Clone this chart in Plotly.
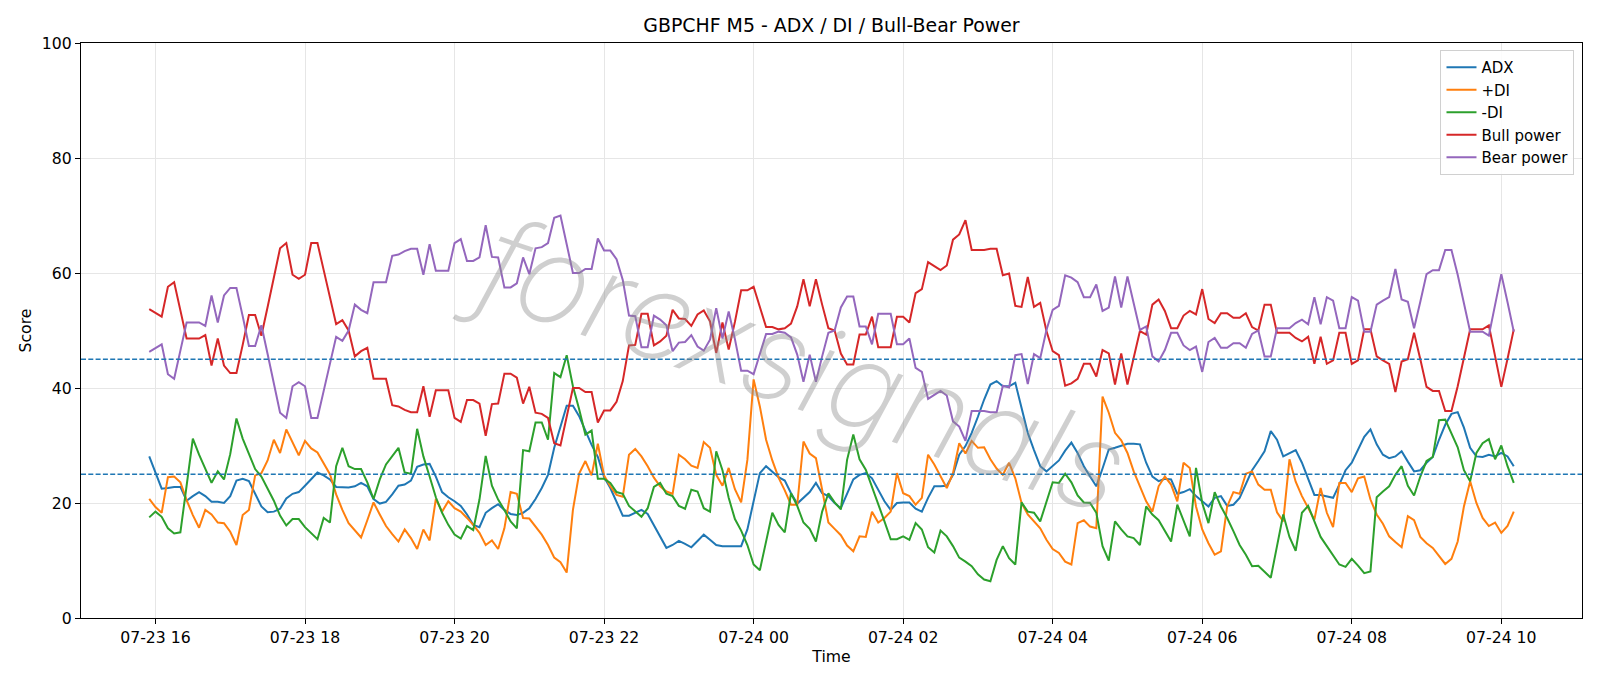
import pandas as pd
import plotly.graph_objects as go

# ---------------- data (5-minute bars) ----------------
start_time = "2025-07-23 15:55"
n_points = 220
times = pd.date_range(start=start_time, periods=n_points, freq="5min")

adx = [
    28.1, 25.3, 22.5, 22.6, 22.8, 22.8, 20.4, 21.2, 21.9, 21.2, 20.2, 20.2, 20.0, 21.2, 23.9, 24.2, 23.8, 21.6, 19.4, 18.4,
    18.5, 19.0, 20.8, 21.6, 21.9, 23.0, 24.1, 25.3, 24.8, 24.1, 22.8, 22.7, 22.7, 22.9, 23.5, 22.9, 20.7, 19.9, 20.2, 21.5,
    23.0,
    23.2, 23.9, 26.3, 26.7, 26.8, 24.6, 21.9, 21.0, 20.3, 19.5, 18.0, 16.2, 15.8, 18.3, 19.1, 19.8, 18.8, 18.1, 17.9, 18.3,
    19.1, 20.7, 22.6, 24.9, 29.6, 33.3, 36.9, 36.9, 35.1, 32.6, 30.1, 28.0, 24.5, 22.6,
    20.3, 17.8, 17.8, 18.3, 18.8, 18.1, 16.2, 14.2, 12.2, 12.7, 13.4, 12.9, 12.3, 13.4, 14.5, 13.6, 12.7, 12.5, 12.5, 12.5,
    12.5, 15.4, 20.6, 25.2, 26.4, 25.5, 24.5, 23.9, 21.7, 19.9, 20.9, 21.9, 23.5, 21.7, 21.2, 20.0, 19.1,
    21.7, 24.1, 24.9, 25.2, 24.3, 22.3, 20.3, 18.8, 20.0, 20.1, 20.1, 19.0, 18.5, 20.9, 22.9, 22.9, 23.0, 24.9, 28.4, 29.9,
    32.2, 35.0, 38.0, 40.6, 41.2, 40.3, 40.3, 40.9, 36.5, 32.2, 29.2, 26.4, 25.5, 26.5, 27.4, 29.1, 30.5,
    28.7, 26.4, 24.6, 22.9, 26.0, 29.3, 29.6, 30.0, 30.3, 30.3, 30.2, 27.0, 24.6, 23.8, 24.2, 24.1, 21.6, 21.9, 22.4, 21.2,
    20.3, 19.4, 20.9, 21.2, 19.5, 19.7, 20.9, 23.2, 25.7, 27.3, 29.0, 32.5, 31.0, 28.1, 28.7, 29.2,
    27.0, 24.1, 21.4, 21.4, 21.2, 20.9, 23.2, 25.7, 27.0, 29.2, 31.5, 32.8, 30.2, 28.4, 27.8, 28.1, 29.0, 27.2, 25.5, 25.7,
    27.0, 28.0, 31.0, 33.6, 35.5, 35.8, 33.1, 29.6, 28.1, 28.0, 28.4, 28.1, 28.7, 28.1, 26.4,
]

plus_di = [
    20.7, 19.3, 18.3, 24.5, 24.6, 23.6, 20.5, 17.9, 15.7, 18.8, 18.0, 16.6, 16.5, 15.0, 12.7, 17.9, 18.8, 24.8, 25.2, 27.4,
    31.0, 28.7, 32.8, 30.5, 28.3, 30.8, 29.5, 28.8, 26.8, 25.0, 21.5, 18.8, 16.5, 15.2, 14.0, 17.0,
    20.1, 18.0, 16.0, 14.6, 13.3, 15.4, 13.9, 12.0, 15.4, 13.5, 20.7, 18.5, 20.3, 19.1, 18.5, 17.4, 16.2, 14.8, 12.7, 13.5,
    12.0, 15.6, 21.9, 21.6, 17.4, 17.3, 16.0, 14.5, 12.7, 10.5, 9.7, 7.9, 18.8, 25.1, 27.3, 24.8, 30.3, 24.8, 22.9,
    21.4, 21.1, 28.4, 29.4, 28.1, 26.4, 24.4, 22.9, 22.0, 21.6, 28.4, 27.6, 26.5, 26.1, 30.6, 29.6, 24.9, 23.0, 26.1, 22.4,
    20.1, 27.5, 41.5, 36.8, 31.0, 27.4, 24.4, 22.2, 19.7, 19.7, 30.7, 28.6, 27.8, 22.3, 16.6, 15.5, 14.4,
    12.6, 11.6, 14.2, 14.1, 18.5, 16.6, 17.4, 18.5, 25.2, 21.7, 21.2, 19.7, 20.9, 28.4, 26.7, 24.6, 22.6, 25.2, 30.4, 28.6,
    30.8, 29.6, 29.7, 27.6, 26.0, 24.9, 27.0, 24.3, 20.0, 18.0, 16.8, 15.6, 13.6, 12.0, 11.3, 9.8, 9.3,
    16.5, 17.0, 15.9, 15.6, 38.5, 35.7, 32.2, 30.9, 28.7, 25.5, 23.0, 20.3, 18.5, 22.9, 24.6, 23.2, 20.3, 27.0, 26.1, 19.4,
    15.4, 13.0, 11.0, 11.6, 19.4, 21.9, 21.6, 25.1, 25.5, 23.2, 22.3, 22.3, 18.4, 16.8, 27.6, 23.7,
    21.2, 19.1, 17.1, 22.6, 18.3, 15.8, 23.5, 23.5, 21.9, 24.3, 24.6, 20.6, 18.0, 16.4, 14.2, 13.2, 12.3, 17.7, 17.0, 14.1,
    13.0, 12.2, 10.7, 9.4, 10.3, 13.3, 19.4, 23.8, 20.0, 17.4, 16.0, 16.6, 14.8, 16.0, 18.5,
]

minus_di = [
    17.5, 18.5, 17.6, 15.6, 14.7, 14.9, 23.0, 31.2, 28.4, 25.9, 23.5, 25.5, 24.1, 28.5, 34.7, 31.2, 28.6, 25.9, 24.6, 22.6,
    20.4, 17.8, 16.1, 17.2, 17.2, 15.8, 14.8, 13.7, 17.4, 16.6, 26.4, 29.6, 26.4, 25.9, 25.9, 23.6,
    20.7, 24.1, 26.7, 28.1, 29.6, 25.3, 25.1, 32.9, 28.1, 24.6, 21.0, 18.3, 16.2, 14.5, 13.8, 16.0, 15.3, 20.6, 28.2, 23.0,
    20.6, 18.8, 16.8, 15.6, 29.2, 29.0, 34.0, 34.0, 31.0, 42.6, 41.9, 45.7, 40.3, 36.3, 31.9, 32.6, 24.2, 24.2, 23.5,
    21.9, 21.6, 19.5, 18.5, 17.6, 19.1, 22.8, 23.5, 21.6, 21.2, 19.5, 19.0, 22.3, 22.0, 19.1, 18.5, 29.0, 25.7, 20.9, 17.2,
    15.2, 12.7, 9.3, 8.3, 13.6, 18.3, 16.2, 14.9, 21.7, 19.5, 16.6, 15.5, 13.3, 18.5, 21.7, 20.1, 18.9,
    27.5, 31.9, 27.6, 25.8, 22.9, 20.0, 16.8, 13.7, 13.7, 14.2, 13.6, 16.5, 15.4, 12.3, 11.4, 15.2, 14.2, 12.5, 10.5, 9.8,
    9.0, 7.6, 6.7, 6.4, 10.1, 12.5, 10.4, 9.3, 20.1, 18.5, 18.3, 16.8, 20.0, 23.6, 23.5, 25.1, 23.6,
    21.3, 20.1, 20.0, 18.3, 12.5, 10.0, 16.8, 15.4, 14.2, 13.9, 12.7, 19.4, 18.0, 17.0, 15.1, 13.3, 19.7, 17.1, 14.2, 26.1,
    20.0, 16.5, 21.9, 19.4, 17.4, 15.1, 12.7, 11.0, 9.0, 9.1, 8.1, 7.0, 12.5, 18.0, 14.1, 11.7,
    18.3, 19.5, 16.8, 14.1, 12.5, 10.8, 9.3, 8.9, 10.3, 9.1, 7.8, 8.1, 21.0, 22.0, 22.9, 24.9, 26.4, 23.0, 21.3, 24.6,
    27.3, 28.0, 34.4, 34.5, 32.2, 29.7, 25.7, 23.8, 28.7, 30.4, 31.1, 27.6, 30.0, 26.4, 23.5,
]

bull_power = [
    53.7, 53.0, 52.4, 57.6, 58.4, 53.5, 48.6, 48.6, 48.6, 49.2, 43.9, 48.6, 43.9, 42.6, 42.6, 47.5, 52.7, 52.7, 49.1, 54.1,
    59.2, 64.3, 65.2, 59.7, 59.0, 59.7, 65.2, 65.2, 60.5, 55.9, 51.1, 51.8, 50.0, 45.5, 46.4, 47.0,
    41.6, 41.6, 41.6, 37.0, 36.8, 36.2, 35.8, 35.8, 40.3, 35.0, 39.6, 39.6, 39.6, 34.8, 34.1, 37.9, 37.9, 37.3, 31.7, 37.2,
    37.3, 42.5, 42.5, 41.8, 37.3, 40.2, 35.7, 35.5, 34.8, 30.4, 30.0, 35.0, 40.0, 40.0, 39.3, 39.3, 34.0, 36.1, 36.1,
    37.6, 41.2, 47.4, 47.5, 52.9, 52.9, 47.4, 48.1, 49.1, 53.6, 52.1, 52.0, 50.8, 52.8, 53.5, 51.6, 46.1, 51.4, 46.7, 51.5,
    57.0, 57.0, 57.6, 54.2, 50.6, 50.6, 50.2, 50.4, 51.2, 54.2, 58.9, 54.2, 58.9, 54.5, 50.4, 50.0, 46.0,
    44.1, 44.1, 49.3, 49.3, 52.4, 47.1, 47.1, 47.1, 52.4, 52.4, 51.4, 56.5, 57.2, 61.9, 61.2, 60.5, 61.3, 65.8, 66.7, 69.2,
    64.0, 64.0, 64.0, 64.2, 64.2, 59.6, 59.9, 54.3, 54.1, 59.3, 54.1, 54.8, 49.9, 46.4, 45.7, 40.4, 40.8,
    41.6, 44.2, 44.2, 42.0, 46.6, 46.0, 40.6, 46.0, 40.6, 45.2, 49.9, 49.3, 54.5, 55.4, 53.4, 50.4, 50.4, 52.6, 53.4, 52.8,
    57.2, 52.0, 51.3, 53.0, 53.0, 52.2, 52.2, 53.0, 50.6, 50.0, 54.5, 54.5, 49.6, 49.6, 49.6, 48.7,
    48.1, 48.9, 44.2, 48.9, 44.2, 44.8, 49.6, 49.6, 44.2, 44.8, 50.2, 50.2, 45.5, 44.8, 44.2, 39.3, 44.6, 45.0, 49.6, 45.0,
    40.2, 39.5, 39.5, 36.0, 36.0, 40.3, 45.0, 50.2, 50.2, 50.2, 50.9, 45.5, 40.2, 45.1, 50.2,
]

bear_power = [
    46.3, 47.0, 47.6, 42.4, 41.6, 46.5, 51.4, 51.4, 51.4, 50.8, 56.1, 51.4, 56.1, 57.4, 57.4, 52.5, 47.3, 47.3, 50.9, 45.9,
    40.8, 35.7, 34.8, 40.3, 41.0, 40.3, 34.8, 34.8, 39.5, 44.1, 48.9, 48.2, 50.0, 54.5, 53.6, 53.0,
    58.4, 58.4, 58.4, 63.0, 63.2, 63.8, 64.2, 64.2, 59.7, 65.0, 60.4, 60.4, 60.4, 65.2, 65.9, 62.1, 62.1, 62.7, 68.3, 62.8,
    62.7, 57.5, 57.5, 58.2, 62.7, 59.8, 64.3, 64.5, 65.2, 69.6, 70.0, 65.0, 60.0, 60.0, 60.7, 60.7, 66.0, 63.9, 63.9,
    62.4, 58.8, 52.6, 52.5, 47.1, 47.1, 52.6, 51.9, 50.9, 46.4, 47.9, 48.0, 49.2, 47.2, 46.5, 48.4, 53.9, 48.6, 53.3, 48.5,
    43.0, 43.0, 42.4, 45.8, 49.4, 49.4, 49.8, 49.6, 48.8, 45.8, 41.1, 45.8, 41.1, 45.5, 49.6, 50.0, 54.0,
    55.9, 55.9, 50.7, 50.7, 47.6, 52.9, 52.9, 52.9, 47.6, 47.6, 48.6, 43.5, 42.8, 38.1, 38.8, 39.5, 38.7, 34.2, 33.3, 30.8,
    36.0, 36.0, 36.0, 35.8, 35.8, 40.4, 40.1, 45.7, 45.9, 40.7, 45.9, 45.2, 50.1, 53.6, 54.3, 59.6, 59.2,
    58.4, 55.8, 55.8, 58.0, 53.4, 54.0, 59.4, 54.0, 59.4, 54.8, 50.1, 50.7, 45.5, 44.6, 46.6, 49.6, 49.6, 47.4, 46.6, 47.2,
    42.8, 48.0, 48.7, 47.0, 47.0, 47.8, 47.8, 47.0, 49.4, 50.0, 45.5, 45.5, 50.4, 50.4, 50.4, 51.3,
    51.9, 51.1, 55.8, 51.1, 55.8, 55.2, 50.4, 50.4, 55.8, 55.2, 49.8, 49.8, 54.5, 55.2, 55.8, 60.7, 55.4, 55.0, 50.4, 55.0,
    59.8, 60.5, 60.5, 64.0, 64.0, 59.7, 55.0, 49.8, 49.8, 49.8, 49.1, 54.5, 59.8, 54.9, 49.8,
]

series_names = ["ADX", "+DI", "-DI", "Bull power", "Bear power"]
series_colors = ["#1f77b4", "#ff7f0e", "#2ca02c", "#d62728", "#9467bd"]
threshold_levels = [45, 25]
y_ticks = [0, 20, 40, 60, 80, 100]

# ---------------- figure ----------------
FONT = "DejaVu Sans"
FS = 15.7
fig = go.Figure()
for name, vals, col in zip(series_names,
                           [adx, plus_di, minus_di, bull_power, bear_power],
                           series_colors):
    fig.add_trace(go.Scatter(x=times, y=vals, mode="lines", name=name,
                             line=dict(color=col, width=2)))

for lvl in threshold_levels:
    fig.add_hline(y=lvl, line=dict(color="#1f77b4", width=1.3, dash="5px,2.3px"), layer="above")

# matplotlib-like 5% margins on the time axis
span = times[-1] - times[0]
x_range = [times[0] - 0.05 * span, times[-1] + 0.05 * span]

# watermark
fig.add_annotation(text="forexsignals", xref="paper", yref="paper", x=0.478, y=0.445,
                   showarrow=False, textangle=19,
                   font=dict(family="Inter", size=122, weight=200,
                             color="rgba(140,140,140,0.42)", style="italic"))

fig.update_layout(
    width=1600, height=686,
    margin=dict(l=81, r=18, t=43, b=68),
    paper_bgcolor="white", plot_bgcolor="white",
    font=dict(family=FONT, size=FS, color="black"),
    title=dict(text="GBPCHF M5 - ADX / DI / Bull-Bear Power", x=0.5, xref="paper",
               y=1 - 25 / 686, yref="container", yanchor="middle", xanchor="center",
               font=dict(family=FONT, size=18.9, color="black")),
    showlegend=True,
    legend=dict(x=0.995, y=0.988, xanchor="right", yanchor="top",
                bgcolor="rgba(255,255,255,0.85)", bordercolor="#d0d0d0", borderwidth=1,
                font=dict(family=FONT, size=15, color="black"),
                itemwidth=30),
)
fig.update_xaxes(range=x_range, type="date", tickformat="%m-%d %H",
                 dtick=2 * 3600 * 1000, tick0="2025-07-23 00:00",
                 showline=True, linecolor="black", linewidth=1.2, mirror=True,
                 ticks="outside", ticklen=5, tickwidth=1, tickcolor="black",
                 showgrid=True, gridcolor="#e6e6e6", gridwidth=1,
                 tickfont=dict(size=FS),
                 title=dict(text="Time", standoff=5, font=dict(size=FS)),
                 zeroline=False)
fig.update_yaxes(range=[0, 100], tickvals=y_ticks,
                 showline=True, linecolor="black", linewidth=1.2, mirror=True,
                 ticks="outside", ticklen=5, tickwidth=1, tickcolor="black",
                 showgrid=True, gridcolor="#e6e6e6", gridwidth=1,
                 tickfont=dict(size=FS),
                 title=dict(text="Score", standoff=6, font=dict(size=FS)),
                 zeroline=False)

fig.write_html("out.html")
